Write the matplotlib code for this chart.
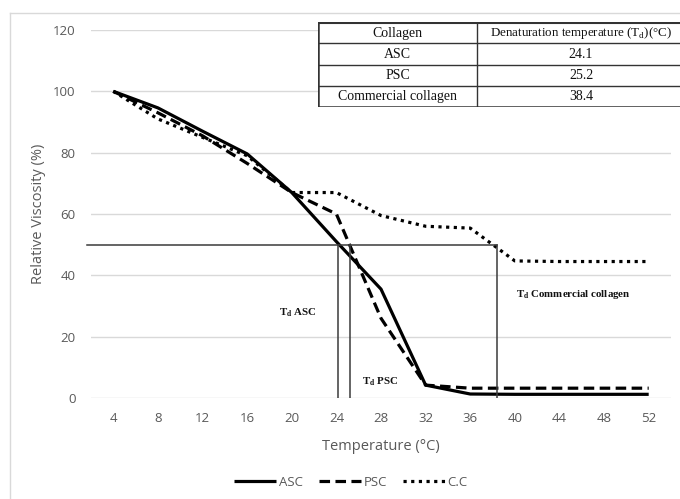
import numpy as np
import matplotlib
matplotlib.use('Agg')
import matplotlib.pyplot as plt
from matplotlib.lines import Line2D
from matplotlib.patches import Rectangle

# data
temps = [4, 8, 12, 16, 20, 24, 28, 32, 36, 40, 44, 48, 52]
asc = [100, 94.6, 87, 79.6, 67, 51, 35.5, 4.2, 1.3, 1.2, 1.2, 1.2, 1.2]
psc = [100, 93, 85.5, 76.5, 67, 60, 26, 4.2, 3.2, 3.2, 3.2, 3.2, 3.2]
cc = [100, 91, 85, 79, 67, 67, 59.5, 56, 55.4, 44.7, 44.5, 44.5, 44.5]

td_names = ['ASC', 'PSC', 'Commercial collagen']
td_values = [24.1, 25.2, 38.4]
half_visc = 50

W, H = 680, 499
plt.rcParams['font.family'] = ['Open Sans', 'DejaVu Sans']
grey_txt = '#595959'

fig = plt.figure(figsize=(W / 100, H / 100), dpi=100)

# outer chart frame (Excel style), top and left edges visible
fig.add_artist(Line2D([10 / W, 1.0], [1 - 13 / H, 1 - 13 / H], color='#d9d9d9', lw=1,
                      transform=fig.transFigure))
fig.add_artist(Line2D([10 / W, 10 / W], [0, 1 - 13 / H], color='#d9d9d9', lw=1,
                      transform=fig.transFigure))

ax = fig.add_axes([91 / W, 1 - 398 / H, 580 / W, 368 / H])
ax.set_xlim(2, 54)
ax.set_ylim(0, 120)
ax.set_xticks(temps)
ax.set_yticks(np.arange(0, 121, 20))
ax.yaxis.grid(True, color='#d9d9d9', lw=1)
ax.set_axisbelow(True)
for s in ax.spines.values():
    s.set_visible(False)
ax.tick_params(length=0, labelsize=9.5, labelcolor=grey_txt, pad=10)
ax.tick_params(axis='y', pad=11)
ax.set_xlabel('Temperature (°C)', fontsize=10.5, color=grey_txt, labelpad=10)
ax.set_ylabel('Relative Viscosity (%)', fontsize=10.5, color=grey_txt, labelpad=5)

ax.plot(temps, asc, color='black', lw=2.3, label='ASC', solid_capstyle='butt')
ax.plot(temps, psc, color='black', lw=2.3, ls=(0, (3.3, 1.7)), label='PSC')
ax.plot(temps, cc, color='black', lw=2.3, ls=(0, (1, 1.4)), label='C.C')

# reference lines for denaturation temperatures
ref_col = '#3a3a3a'
ax.plot([1.65, max(td_values)], [half_visc, half_visc], color=ref_col, lw=1.1, clip_on=False)
for t in td_values:
    ax.plot([t, t], [0, half_visc], color=ref_col, lw=1.1)

lab_kw = dict(family='Liberation Serif', fontweight='bold', fontsize=7.8, color='#111111',
              ha='center', va='center')
ax.text(20.5, 28, r'T$_{\mathregular{d}}$ ASC', **lab_kw)
ax.text(27.9, 5.4, r'T$_{\mathregular{d}}$ PSC', **lab_kw)
ax.text(45.2, 33.6, r'T$_{\mathregular{d}}$ Commercial collagen', **lab_kw)

fig.legend(loc='center', bbox_to_anchor=(351 / W, 1 - 482 / H), ncol=3, frameon=False,
           fontsize=9.5, handlelength=3.2, handletextpad=0.2, columnspacing=1.2,
           labelcolor=grey_txt)

# inset table
tx0, tx1, ty0, ty1 = 318, 683, 22, 107
axt = fig.add_axes([tx0 / W, 1 - ty1 / H, (tx1 - tx0) / W, (ty1 - ty0) / H])
axt.set_xlim(0, 1)
axt.set_ylim(0, 4)
axt.axis('off')
axt.add_patch(Rectangle((0, 0), 1, 4, facecolor='white', edgecolor='#333333', lw=1.8))
div = (477 - tx0) / (tx1 - tx0)
axt.plot([div, div], [0, 4], color='#333333', lw=1)
for r in [1, 2, 3]:
    axt.plot([0, 1], [r, r], color='#333333', lw=1)
axt.plot([0, 1], [3.95, 3.95], color='#333333', lw=1.5)
tab_kw = dict(family='Liberation Serif', fontsize=10, color='#111111', ha='center', va='center')
col2 = (581 - tx0) / (tx1 - tx0)
axt.text(div / 2, 3.48, 'Collagen', **tab_kw)
axt.text(col2, 3.48, r'Denaturation temperature (T$_{\mathregular{d}}$)(°C)',
         **dict(tab_kw, fontsize=9.4))
for i, (n, v) in enumerate(zip(td_names, td_values)):
    axt.text(div / 2, 2.48 - i, n, **tab_kw)
    axt.text(col2, 2.48 - i, '{:.1f}'.format(v), **tab_kw)

fig.savefig('out.png', dpi=100)
